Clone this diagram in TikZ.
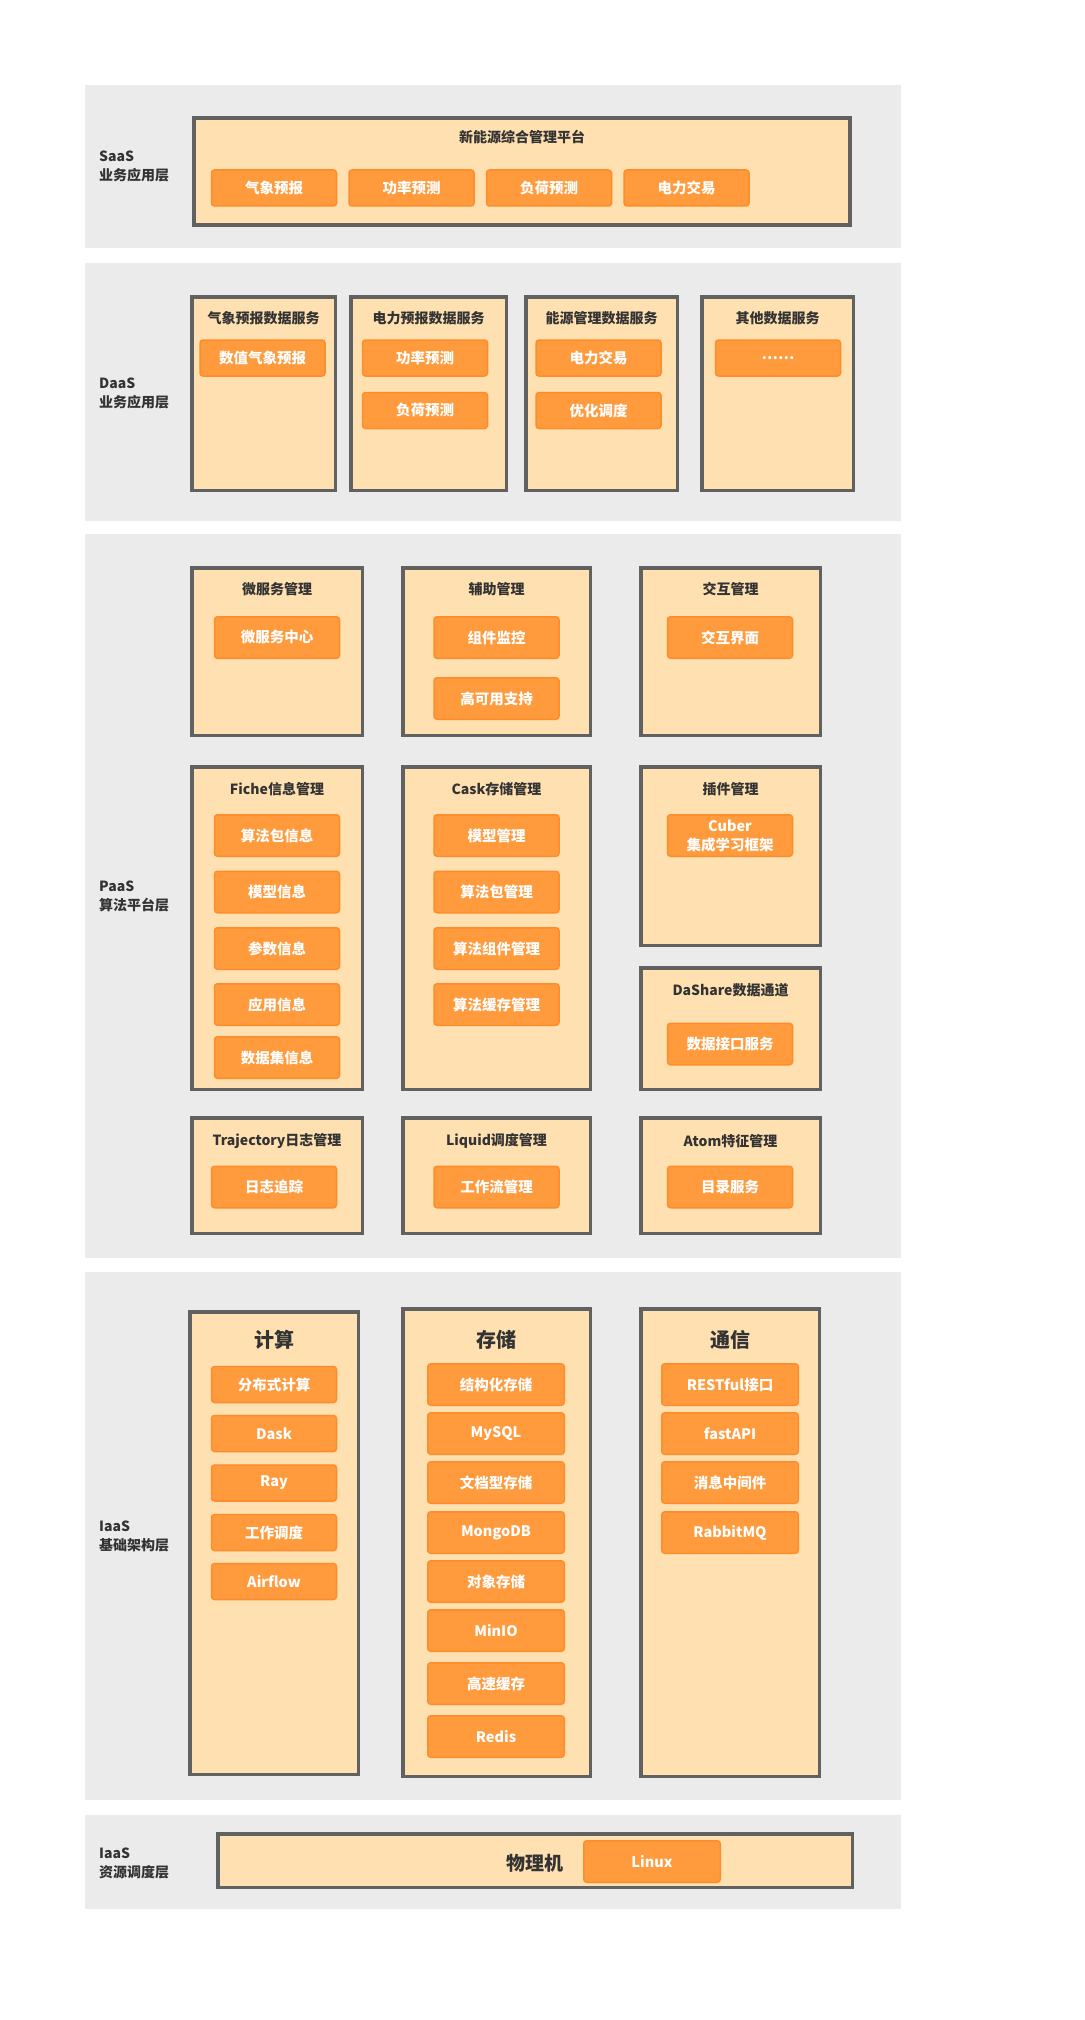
\documentclass[tikz,border=0pt]{standalone}
\usepackage{fontspec}
\setmainfont{Noto Sans CJK SC}
\usetikzlibrary{positioning}
\definecolor{bandgray}{HTML}{EBEBEB}
\definecolor{boxfill}{HTML}{FFE0B0}
\definecolor{framegray}{HTML}{616161}
\definecolor{itemorange}{HTML}{FF9A3D}
\definecolor{itemedge}{HTML}{FF8C2A}
\definecolor{textdark}{HTML}{333333}
\tikzstyle{layer}=[fill=bandgray, inner sep=0pt, minimum width=816pt]
\tikzstyle{layer label}=[anchor=west, align=left, inner sep=0pt, text=textdark, font=\fontsize{14}{19}\selectfont\bfseries]
\tikzstyle{group}=[fill=boxfill, draw=framegray, line width=3.5pt, inner sep=0pt]
\tikzstyle{caption}=[inner sep=0pt, text=textdark, font=\fontsize{14}{17}\selectfont\bfseries]
\tikzstyle{big caption}=[caption, font=\fontsize{20}{24}\selectfont\bfseries]
\tikzstyle{item}=[align=center, fill=itemorange, draw=itemedge, line width=1.5pt, rounded corners=3pt, inner sep=0pt, text=white, font=\fontsize{14.5}{19}\selectfont\bfseries, minimum width=125pt, minimum height=41.5pt]
\tikzstyle{small item}=[item, minimum height=36pt]

\begin{document}
\begin{tikzpicture}[x=1pt,y=-1pt]
\useasboundingbox (0,0) rectangle (1084,2020);

% layers
\draw (493,166.5) node[layer,minimum height=163pt] (saasBand) {};
\draw (493,392)   node[layer,minimum height=258pt] (daasBand) {};
\draw (493,896)   node[layer,minimum height=724pt] (paasBand) {};
\draw (493,1536)  node[layer,minimum height=528pt] (iaasBand) {};
\draw (493,1862)  node[layer,minimum height=94pt]  (resBand) {};

\draw (99,166.5) node[layer label] (saasLbl) {SaaS\\业务应用层};
\draw (99,393)   node[layer label] (daasLbl) {DaaS\\业务应用层};
\draw (99,896.5) node[layer label] (paasLbl) {PaaS\\算法平台层};
\draw (99,1536.5) node[layer label] (iaasLbl) {IaaS\\基础架构层};
\draw (99,1863)  node[layer label] (resLbl) {IaaS\\资源调度层};

% SaaS
\draw (522,171.5) node[group,minimum width=656pt,minimum height=107pt] (saasBox) {};
\draw (522,137) node[caption] (saasTitle) {新能源综合管理平台};
\draw (274,188) node[small item] (sWeather) {气象预报};
\draw (sWeather) ++(137.5,0) node[small item] (sPower) {功率预测};
\draw (sPower) ++(137.5,0) node[small item] (sLoad) {负荷预测};
\draw (sLoad) ++(137.5,0) node[small item] (sTrade) {电力交易};

% DaaS
\draw (263.5,393.5) node[group,minimum width=143.5pt,minimum height=193.5pt] (dWeatherBox) {};
\draw (428.5,393.5) node[group,minimum width=155.5pt,minimum height=193.5pt] (dPowerBox) {};
\draw (601.5,393.5) node[group,minimum width=151.5pt,minimum height=193.5pt] (dEnergyBox) {};
\draw (777.5,393.5) node[group,minimum width=151.5pt,minimum height=193.5pt] (dOtherBox) {};
\draw (263.5,318) node[caption] (dWeatherTitle) {气象预报数据服务};
\draw (428.5,318) node[caption] (dPowerTitle) {电力预报数据服务};
\draw (601.5,318) node[caption] (dEnergyTitle) {能源管理数据服务};
\draw (777.5,318) node[caption] (dOtherTitle) {其他数据服务};
\draw (262.5,358) node[small item] (dNwp) {数值气象预报};
\draw (425,358) node[small item] (dPower) {功率预测};
\draw (dPower) ++(0,52.5) node[small item] (dLoad) {负荷预测};
\draw (598.5,358) node[small item] (dTrade) {电力交易};
\draw (dTrade) ++(0,52.5) node[small item] (dOpt) {优化调度};
\draw (778,358) node[small item] (dMore) {……};

% PaaS
\draw (277,651.5)   node[group,minimum width=170.5pt,minimum height=167.5pt] (pMicroBox) {};
\draw (496.5,651.5) node[group,minimum width=187.5pt,minimum height=167.5pt] (pAuxBox) {};
\draw (730.5,651.5) node[group,minimum width=179.5pt,minimum height=167.5pt] (pInterBox) {};
\draw (277,589)   node[caption] (pMicroTitle) {微服务管理};
\draw (496.5,589) node[caption] (pAuxTitle) {辅助管理};
\draw (730.5,589) node[caption] (pInterTitle) {交互管理};
\draw (277,637.5) node[item] (pMicro) {微服务中心};
\draw (496.5,637.5) node[item] (pMonitor) {组件监控};
\draw (pMonitor) ++(0,61) node[item] (pHa) {高可用支持};
\draw (730,637.5) node[item] (pUi) {交互界面};

\draw (277,928)    node[group,minimum width=170.5pt,minimum height=322.5pt] (pFicheBox) {};
\draw (496.5,928)  node[group,minimum width=187.5pt,minimum height=322.5pt] (pCaskBox) {};
\draw (730.5,856)  node[group,minimum width=179.5pt,minimum height=178.5pt] (pPluginBox) {};
\draw (730.5,1028.5) node[group,minimum width=179.5pt,minimum height=121.5pt] (pShareBox) {};
\draw (277,789)   node[caption] (pFicheTitle) {Fiche信息管理};
\draw (496.5,789) node[caption] (pCaskTitle) {Cask存储管理};
\draw (730.5,789) node[caption] (pPluginTitle) {插件管理};
\draw (730.5,990) node[caption] (pShareTitle) {DaShare数据通道};
\draw (277,835.5) node[item] (fAlgo) {算法包信息};
\draw (fAlgo) ++(0,56.5) node[item] (fModel) {模型信息};
\draw (fModel) ++(0,56.5) node[item] (fParam) {参数信息};
\draw (fParam) ++(0,56) node[item] (fApp) {应用信息};
\draw (fApp) ++(0,53) node[item] (fData) {数据集信息};
\draw (496.5,835.5) node[item] (cModel) {模型管理};
\draw (cModel) ++(0,56.5) node[item] (cAlgo) {算法包管理};
\draw (cAlgo) ++(0,56.5) node[item] (cComp) {算法组件管理};
\draw (cComp) ++(0,56) node[item] (cCache) {算法缓存管理};
\draw (730,835.5) node[item] (pCuber) {Cuber\\集成学习框架};
\draw (730,1044) node[item] (pApi) {数据接口服务};

\draw (277,1175.5)   node[group,minimum width=170.5pt,minimum height=115.5pt] (pTrajBox) {};
\draw (496.5,1175.5) node[group,minimum width=187.5pt,minimum height=115.5pt] (pLiquidBox) {};
\draw (730.5,1175.5) node[group,minimum width=179.5pt,minimum height=115.5pt] (pAtomBox) {};
\draw (277,1141)   node[caption] (pTrajTitle) {Trajectory日志管理};
\draw (496.5,1141) node[caption] (pLiquidTitle) {Liquid调度管理};
\draw (730.5,1141) node[caption] (pAtomTitle) {Atom特征管理};
\draw (274,1187)   node[item] (pTrace) {日志追踪};
\draw (496.5,1187) node[item] (pFlow) {工作流管理};
\draw (730,1187)   node[item] (pCatalog) {目录服务};

% IaaS
\draw (274,1543)    node[group,minimum width=168.5pt,minimum height=462.5pt] (iCalcBox) {};
\draw (496.5,1542.5) node[group,minimum width=187.5pt,minimum height=467.5pt] (iStoreBox) {};
\draw (730,1542.5)  node[group,minimum width=178.5pt,minimum height=467.5pt] (iCommBox) {};
\draw (274,1340)   node[big caption] (iCalcTitle) {计算};
\draw (496.5,1340) node[big caption] (iStoreTitle) {存储};
\draw (730,1340)   node[big caption] (iCommTitle) {通信};

\draw (274,1384.5) node[small item] (iDist) {分布式计算};
\draw (iDist) ++(0,49) node[small item] (iDask) {Dask};
\draw (iDask) ++(0,49.5) node[small item] (iRay) {Ray};
\draw (iRay) ++(0,49.5) node[small item] (iSched) {工作调度};
\draw (iSched) ++(0,49) node[small item] (iAirflow) {Airflow};

\draw (496,1384.5) node[item,minimum width=136.5pt] (iStruct) {结构化存储};
\draw (iStruct) ++(0,49) node[item,minimum width=136.5pt] (iMysql) {MySQL};
\draw (iMysql) ++(0,49) node[item,minimum width=136.5pt] (iDoc) {文档型存储};
\draw (iDoc) ++(0,50) node[item,minimum width=136.5pt] (iMongo) {MongoDB};
\draw (iMongo) ++(0,49) node[item,minimum width=136.5pt] (iObj) {对象存储};
\draw (iObj) ++(0,49) node[item,minimum width=136.5pt] (iMinio) {MinIO};
\draw (iMinio) ++(0,53) node[item,minimum width=136.5pt] (iCache) {高速缓存};
\draw (iCache) ++(0,53) node[item,minimum width=136.5pt] (iRedis) {Redis};

\draw (730,1384.5) node[item,minimum width=136.5pt] (iRest) {RESTful接口};
\draw (iRest) ++(0,49) node[item,minimum width=136.5pt] (iFast) {fastAPI};
\draw (iFast) ++(0,49) node[item,minimum width=136.5pt] (iMq) {消息中间件};
\draw (iMq) ++(0,50) node[item,minimum width=136.5pt] (iRabbit) {RabbitMQ};

% resources
\draw (535,1860.5) node[group,minimum width=634.5pt,minimum height=53.5pt] (rHostBox) {};
\draw (535,1863) node[caption,font=\fontsize{19}{23}\selectfont\bfseries] (rHost) {物理机};
\draw (652,1861.5) node[item,minimum width=136.5pt] (rLinux) {Linux};

\end{tikzpicture}
\end{document}
